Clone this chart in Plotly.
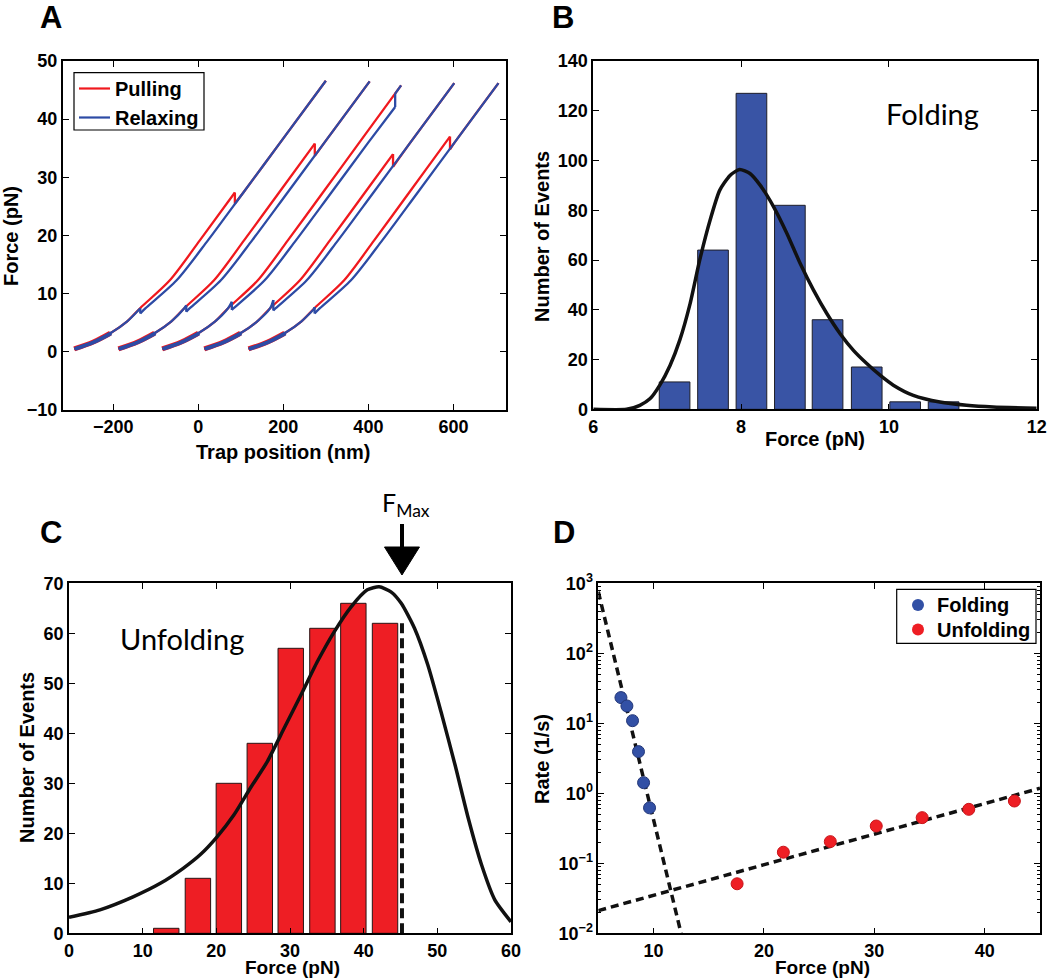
import numpy as np
import plotly.graph_objects as go

W, H = 1050, 979

# ---------------- Panel A : force-extension traces ----------------
FOLD_F = [0.5, 1.7, 3.2, 5.2, 7.5, 12.3, 19.2, 27.4, 36.0, 46.6]
FOLD_DX = [0, 45, 85, 124, 155, 225, 296, 378, 464, 570]      # folded branch (nm from trace start)
UNF_DX = [10, 56, 97, 136, 168, 241, 315, 398, 485, 592]      # unfolded branch
TRACE_X0 = [-292, -188, -85, 14, 118]
RIP_TOP = [27.4, 35.8, 44.4, 34.0, 37.0]
RIP_BOTTOM = [25.5, 33.7, 42.1, 31.8, 34.8]
RIP_ON_RELAX = [False, False, True, False, False]
REFOLD_LOW = [6.6, 6.9, 7.2, 7.1, 6.6]
REFOLD_HIGH = [7.5, 8.0, 8.6, 8.9, 7.7]
END_F = [46.6, 46.5, 45.8, 46.2, 46.2]
NOISY_BELOW_F = 3.2   # low-force region where the traces are a noisy band

# ---------------- Panel B : folding force histogram ----------------
B_CENTERS = [7.10, 7.62, 8.14, 8.66, 9.17, 9.70, 10.22, 10.74]
B_COUNTS = [11, 64, 127, 82, 36, 17, 3, 3]
B_FIT_F = [6.0, 6.45, 6.63, 6.77, 6.90, 7.04, 7.17, 7.31, 7.44, 7.58, 7.71, 7.85, 7.98, 8.12,
           8.26, 8.44, 8.62, 8.80, 8.98, 9.16, 9.34, 9.52, 9.70, 9.88, 10.06, 10.33, 10.69,
           11.05, 11.41, 12.0]
B_FIT_N = [0, 0, 1.6, 4.3, 9.7, 17.7, 27.8, 42.5, 60, 76, 88, 94, 96.4, 94.8, 90, 81.4, 70.7,
           58.6, 47.9, 38.5, 30.4, 23.7, 18.4, 13.7, 9.7, 5.6, 2.9, 1.6, 0.9, 0.4]

# ---------------- Panel C : unfolding force histogram ----------------
C_CENTERS = [13.2, 17.5, 21.7, 25.9, 30.1, 34.4, 38.6, 42.9]
C_COUNTS = [1, 11, 30, 38, 57, 61, 66, 62]
C_FIT_F = [0, 4.2, 8.7, 12.4, 15.5, 17.8, 20.1, 22.4, 24.6, 26.9, 29.2, 31.5, 33.7, 36.0, 38.3,
           40.5, 42.1, 43.7, 45.1, 46.9, 48.7, 50.5, 52.4, 54.2, 56.0, 57.8, 60.0]
C_FIT_N = [3.2, 4.7, 7.3, 10, 13, 15.7, 19.3, 23.7, 29, 34.3, 41, 47.7, 54.3, 60.3, 65.3, 68.7,
           69.3, 68.3, 66, 61, 53.7, 44.3, 33.7, 23, 13.7, 6.7, 2.3]
F_MAX = 45.2
F_MAX_LINE_TOP = 62.7

# ---------------- Panel D : rates ----------------
D_FOLD_F = [7.05, 7.59, 8.10, 8.64, 9.10, 9.64]
D_FOLD_RATE = [23.3, 17.7, 10.9, 3.94, 1.42, 0.62]
D_UNF_F = [17.57, 21.76, 26.01, 30.17, 34.33, 38.55, 42.68]
D_UNF_RATE = [0.051, 0.144, 0.204, 0.341, 0.449, 0.59, 0.776]
FOLD_FIT_F = [5.0, 12.5]
FOLD_FIT_LOG_AT5, FOLD_FIT_SLOPE = 2.88, -0.651
UNF_FIT_F = [5.0, 45.0]
UNF_FIT_LOG_AT5, UNF_FIT_SLOPE = -1.676, 0.0437

RED = "rgb(238,30,36)"
BLUE = "rgb(50,80,165)"
BAR_BLUE = "rgb(57,84,165)"
LINE_RED = "rgb(240,25,30)"
LINE_BLUE = "rgb(45,75,165)"

# pixel boxes of the four axes (left, right, top, bottom)
BOX = {
    "A": (62.7, 505.7, 61, 410),
    "B": (593.3, 1036.7, 61, 409.3),
    "C": (69.0, 511.0, 583.3, 933.3),
    "D": (598.3, 1040.0, 583.3, 933.3),
}


def px(X):
    return X / W


def py(Y):
    return 1 - Y / H


def dom(k):
    l, r, t, b = BOX[k]
    return [px(l), px(r)], [py(b), py(t)]


fig = go.Figure()


# ---------- Panel A traces ----------
def xf(F, x0):
    return x0 + float(np.interp(F, FOLD_F, FOLD_DX))


def xu(F, x0):
    return x0 + float(np.interp(F, FOLD_F, UNF_DX))


def branch(x0, dxs, f_from, f_to, x_start, x_end):
    """points of one branch between forces f_from and f_to (either direction)."""
    lo, hi = min(f_from, f_to), max(f_from, f_to)
    pts = [(x0 + d, F) for F, d in zip(FOLD_F, dxs) if lo < F < hi]
    if f_from > f_to:
        pts = pts[::-1]
    return [(x_start, f_from)] + pts + [(x_end, f_to)]


pull_segs, relax_segs, noisy = [], [], []
for i, x0 in enumerate(TRACE_X0):
    rt, rb, rl, rh, fe = RIP_TOP[i], RIP_BOTTOM[i], REFOLD_LOW[i], REFOLD_HIGH[i], END_F[i]
    f0 = FOLD_F[0]
    xs0 = x0 + FOLD_DX[0]
    noisy.append(branch(x0, FOLD_DX, f0, NOISY_BELOW_F, xs0, xf(NOISY_BELOW_F, x0)))
    if not RIP_ON_RELAX[i]:
        xr = xf(rt, x0)
        pull_segs.append(("curve", branch(x0, FOLD_DX, f0, rt, xs0, xr)))
        pull_segs.append(("jump", [(xr, rt), (xr, rb)]))
        pull_segs.append(("curve", branch(x0, UNF_DX, rb, fe, xr, xu(fe, x0))))
        xq = xu(rl, x0)
        relax_segs.append(("curve", branch(x0, UNF_DX, fe, rl, xu(fe, x0), xq)))
        relax_segs.append(("jump", [(xq, rl), (xq, rh)]))
        relax_segs.append(("curve", branch(x0, FOLD_DX, rh, f0, xq, xs0)))
    else:
        pull_segs.append(("curve", branch(x0, FOLD_DX, f0, fe, xs0, xf(fe, x0))))
        xr = xf(rt, x0)
        xq = xu(rl, x0)
        relax_segs.append(("curve", branch(x0, FOLD_DX, fe, rt, xf(fe, x0), xr)))
        relax_segs.append(("jump", [(xr, rt), (xr, rb)]))
        relax_segs.append(("curve", branch(x0, UNF_DX, rb, rl, xr, xq)))
        relax_segs.append(("jump", [(xq, rl), (xq, rh)]))
        relax_segs.append(("curve", branch(x0, FOLD_DX, rh, f0, xq, xs0)))

for pts in noisy:
    fig.add_trace(go.Scatter(x=[p[0] for p in pts], y=[p[1] for p in pts], mode="lines",
                             line=dict(color=LINE_RED, width=5, shape="spline"),
                             xaxis="x", yaxis="y", showlegend=False))
for segs, col in [(pull_segs, LINE_RED), (relax_segs, LINE_BLUE)]:
    for kind, pts in segs:
        fig.add_trace(go.Scatter(
            x=[p[0] for p in pts], y=[p[1] for p in pts], mode="lines",
            line=dict(color=col, width=2.3, shape="spline" if kind == "curve" else "linear",
                      smoothing=0.8),
            xaxis="x", yaxis="y", showlegend=False))
for pts in noisy:
    fig.add_trace(go.Scatter(x=[p[0] + 2 for p in pts], y=[p[1] for p in pts], mode="lines",
                             line=dict(color=LINE_BLUE, width=3.8, shape="spline"),
                             xaxis="x", yaxis="y", showlegend=False))

# ---------- Panel B ----------
fig.add_trace(go.Bar(x=B_CENTERS, y=B_COUNTS, width=0.415, marker=dict(color=BAR_BLUE,
                     line=dict(color="rgb(30,30,40)", width=1)), xaxis="x2", yaxis="y2",
                     showlegend=False))
fig.add_trace(go.Scatter(x=B_FIT_F, y=B_FIT_N, mode="lines", line=dict(color="#111", width=3.5,
                         shape="spline", smoothing=0.6), xaxis="x2", yaxis="y2", showlegend=False))

# ---------- Panel C ----------
fig.add_trace(go.Bar(x=C_CENTERS, y=C_COUNTS, width=3.45, marker=dict(color=RED,
                     line=dict(color="rgb(40,20,20)", width=1)), xaxis="x3", yaxis="y3",
                     showlegend=False))
fig.add_trace(go.Scatter(x=C_FIT_F, y=C_FIT_N, mode="lines", line=dict(color="#111", width=3.5,
                         shape="spline", smoothing=0.6), xaxis="x3", yaxis="y3", showlegend=False))
fig.add_trace(go.Scatter(x=[F_MAX, F_MAX], y=[0, F_MAX_LINE_TOP], mode="lines",
                         line=dict(color="#111", width=4, dash="10px,5px"),
                         xaxis="x3", yaxis="y3", showlegend=False))

# ---------- Panel D ----------
fold_fit_rate = [10 ** (FOLD_FIT_LOG_AT5 + FOLD_FIT_SLOPE * (f - 5)) for f in FOLD_FIT_F]
unf_fit_rate = [10 ** (UNF_FIT_LOG_AT5 + UNF_FIT_SLOPE * (f - 5)) for f in UNF_FIT_F]
fig.add_trace(go.Scatter(x=FOLD_FIT_F, y=fold_fit_rate, mode="lines",
                         line=dict(color="#111", width=3.5, dash="8px,5px"),
                         xaxis="x4", yaxis="y4", showlegend=False))
fig.add_trace(go.Scatter(x=UNF_FIT_F, y=unf_fit_rate, mode="lines",
                         line=dict(color="#111", width=3.5, dash="8px,5px"),
                         xaxis="x4", yaxis="y4", showlegend=False))
fig.add_trace(go.Scatter(x=D_FOLD_F, y=D_FOLD_RATE, mode="markers",
                         marker=dict(color=BLUE, size=12, line=dict(color="rgb(35,55,120)", width=1)),
                         xaxis="x4", yaxis="y4", showlegend=False))
fig.add_trace(go.Scatter(x=D_UNF_F, y=D_UNF_RATE, mode="markers",
                         marker=dict(color=RED, size=12, line=dict(color="rgb(200,20,25)", width=1)),
                         xaxis="x4", yaxis="y4", showlegend=False))

# ---------- axes ----------
TICKFONT = dict(family="Liberation Sans, Arial, sans-serif", size=18, color="black", weight="bold")


def ax(domain, **kw):
    d = dict(domain=domain, showline=True, linecolor="black", linewidth=1.6, mirror="ticks",
             ticks="inside", ticklen=6, tickwidth=1.4, tickcolor="black", showgrid=False,
             zeroline=False, tickfont=TICKFONT, automargin=False, fixedrange=True)
    d.update(kw)
    return d


dxA, dyA = dom("A")
dxB, dyB = dom("B")
dxC, dyC = dom("C")
dxD, dyD = dom("D")

sup = {-2: "10<sup>−2</sup>", -1: "10<sup>−1</sup>", 0: "10<sup>0</sup>", 1: "10<sup>1</sup>",
       2: "10<sup>2</sup>", 3: "10<sup>3</sup>"}

fig.update_layout(
    width=W, height=H, margin=dict(l=0, r=0, t=0, b=0),
    paper_bgcolor="white", plot_bgcolor="white", showlegend=False,
    xaxis=ax(dxA, anchor="y", range=[-319, 723], tickvals=[-200, 0, 200, 400, 600]),
    yaxis=ax(dyA, anchor="x", range=[-10, 50], tickvals=[-10, 0, 10, 20, 30, 40, 50]),
    xaxis2=ax(dxB, anchor="y2", range=[6, 12], tickvals=[6, 8, 10, 12]),
    yaxis2=ax(dyB, anchor="x2", range=[0, 140], tickvals=list(range(0, 141, 20))),
    xaxis3=ax(dxC, anchor="y3", range=[0, 60], tickvals=list(range(0, 61, 10))),
    yaxis3=ax(dyC, anchor="x3", range=[0, 70], tickvals=list(range(0, 71, 10))),
    xaxis4=ax(dxD, anchor="y4", range=[5, 45], tickvals=[10, 20, 30, 40]),
    yaxis4=ax(dyD, anchor="x4", type="log", range=[-2, 3],
              tickvals=[10 ** k for k in range(-2, 4)], ticktext=[sup[k] for k in range(-2, 4)],
              minor=dict(ticks="inside", ticklen=3, tickcolor="black", dtick="D1")),
)

# ---------- annotations ----------
anns = []


def ann(text, X, Y, size=20, family="Liberation Sans, Arial, sans-serif", xanchor="center",
        yanchor="middle", angle=0, bold=True):
    t = f"<b>{text}</b>" if bold else text
    anns.append(dict(text=t, x=px(X), y=py(Y), xref="paper", yref="paper", showarrow=False,
                     xanchor=xanchor, yanchor=yanchor, textangle=angle, borderpad=0,
                     font=dict(family=family, size=size, color="black")))


NARROW = "Liberation Sans Narrow, Arial Narrow, Liberation Sans, sans-serif"
ann("A", 39, 17, size=31, family=NARROW, xanchor="left")
ann("B", 551, 17, size=31, family=NARROW, xanchor="left")
ann("C", 39, 532, size=31, family=NARROW, xanchor="left")
ann("D", 552, 532, size=31, family=NARROW, xanchor="left")

ann("Trap position (nm)", 283, 452)
ann("Force (pN)", 11, 236, angle=-90)
ann("Force (pN)", 815, 439)
ann("Number of Events", 542, 237, angle=-90)
ann("Force (pN)", 292, 979, size=19, yanchor="bottom")
ann("Number of Events", 27, 758, angle=-90)
ann("Force (pN)", 822, 979, size=19, yanchor="bottom")
ann("Rate (1/s)", 542, 759, angle=-90)

LATO = "Lato, Noto Sans, sans-serif"
ann("Folding", 932, 113, size=29, family=LATO, bold=False)
ann("Unfolding", 182, 638, size=29, family=LATO, bold=False)
ann("F<sub>Max</sub>", 381, 504, size=25, family=LATO, xanchor="left", bold=False)

# legend A
ann("Pulling", 114, 89, xanchor="left")
ann("Relaxing", 114, 118, xanchor="left")
# legend D
ann("Folding", 936, 605, xanchor="left")
ann("Unfolding", 936, 630, xanchor="left")

fig.update_layout(annotations=anns)

# ---------- shapes (legend boxes, arrow) ----------
shapes = []


def rect(x0, y0, x1, y1, **kw):
    shapes.append(dict(type="rect", xref="paper", yref="paper", x0=px(x0), x1=px(x1),
                       y0=py(y1), y1=py(y0), **kw))


def seg(x0, y0, x1, y1, color, width):
    shapes.append(dict(type="line", xref="paper", yref="paper", x0=px(x0), x1=px(x1),
                       y0=py(y0), y1=py(y1), line=dict(color=color, width=width)))


rect(74, 72.7, 204, 130, line=dict(color="black", width=1.2), fillcolor="white", layer="below")
seg(79, 88.5, 110, 88.5, LINE_RED, 2.2)
seg(79, 117.5, 110, 117.5, LINE_BLUE, 2.2)

rect(896.7, 589.3, 1036, 643.3, line=dict(color="black", width=1.2), fillcolor="white", layer="below")
for (cy, col) in [(605, BLUE), (629.5, RED)]:
    shapes.append(dict(type="circle", xref="paper", yref="paper", x0=px(912), x1=px(924),
                       y0=py(cy + 6), y1=py(cy - 6), fillcolor=col, line=dict(color=col, width=0)))

# arrow pointing at F_MAX
l, r, t, b = BOX["C"]
ax_x = l + (F_MAX - 0) / 60.0 * (r - l)
seg(ax_x, 524, ax_x, 550, "black", 4)
shapes.append(dict(type="path", xref="paper", yref="paper",
                   path=f"M {px(ax_x - 17.5)} {py(547)} L {px(ax_x + 17.5)} {py(547)} L {px(ax_x)} {py(575)} Z",
                   fillcolor="black", line=dict(color="black", width=1)))

fig.update_layout(shapes=shapes)

fig.write_html("out.html", config={"displayModeBar": False},
               post_script="document.body.style.margin='0';document.body.style.overflow='hidden';")
